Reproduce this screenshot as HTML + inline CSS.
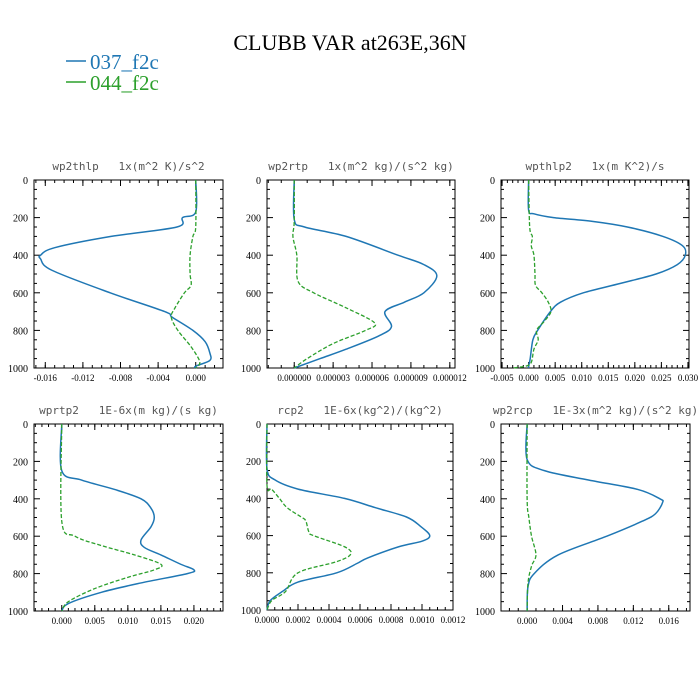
<!DOCTYPE html>
<html><head><meta charset="utf-8"><style>
body{margin:0;background:#fff;width:700px;height:700px;overflow:hidden}
svg{display:block}
</style></head><body>
<svg id="c" width="700" height="700">
<text x="350" y="50" text-anchor="middle" font-family="Liberation Serif, serif" font-size="22">CLUBB VAR at263E,36N</text>
<g>
<line x1="66" y1="61" x2="86" y2="61" stroke="#1f77b4" stroke-width="1.5"/>
<text x="90" y="69" font-family="Liberation Serif, serif" font-size="21" fill="#1f77b4">037_f2c</text>
<line x1="66" y1="82" x2="86" y2="82" stroke="#2ca02c" stroke-width="1.5"/>
<text x="90" y="90" font-family="Liberation Serif, serif" font-size="21" fill="#2ca02c">044_f2c</text>
</g>
</svg>
<script>
const levels1 = [0,170,200,250,300,360,400,420,480,600,700,730,800,860,920,960,990,1000];
const blue1 = [0,0,-0.0014,-0.002,-0.009,-0.015,-0.0165,-0.0165,-0.0153,-0.0091,-0.0033,-0.0025,-0.0003,0.001,0.0015,0.0015,0,0];
const levelsG1 = [0,250,300,400,500,560,600,680,730,800,880,950,980,1000];
const green1 = [0,0,-0.0003,-0.0006,-0.0006,-0.0005,-0.0012,-0.0022,-0.0026,-0.0019,-0.0006,0.0003,0.0004,0];
const levels2 = [0,210,250,300,400,450,510,600,650,700,780,830,900,950,1000];
const blue2 = [0,0,0.8e-6,4e-6,8e-6,10e-6,11e-6,10e-6,8.5e-6,7e-6,7.5e-6,6.5e-6,4e-6,2e-6,0];
const levelsG2 = [0,220,300,400,540,600,680,760,800,870,950,1000];
const green2 = [0,0,-0.1e-6,0.2e-6,0.3e-6,1.5e-6,4e-6,6.2e-6,5.5e-6,3e-6,1e-6,0];
const levels3 = [0,160,180,200,220,250,300,350,400,450,500,550,600,650,700,800,850,950,990,1000];
const blue3 = [0,0,0.001,0.0047,0.012,0.0186,0.0253,0.029,0.0295,0.028,0.024,0.0173,0.0103,0.006,0.0041,0.0017,0.0008,0.0003,0,0];
const levelsG3 = [0,250,300,350,400,500,560,600,650,700,750,800,850,900,970,990,1000];
const green3 = [0,0.0002,0.0007,0.0005,0.001,0.0012,0.0013,0.0025,0.0037,0.0042,0.003,0.0015,0.0018,0.001,0.0005,-0.0005,-0.003];
const levels4 = [0,250,300,350,400,450,500,550,620,660,700,750,780,800,850,900,960,1000];
const blue4 = [0,0,0.003,0.008,0.012,0.0135,0.014,0.0135,0.012,0.0125,0.015,0.018,0.020,0.019,0.012,0.006,0.001,0];
const levelsG4 = [0,520,600,650,700,750,780,820,880,950,1000];
const green4 = [0,0,0.002,0.006,0.011,0.015,0.014,0.010,0.005,0.001,0];
const levels5 = [0,240,300,350,400,450,500,550,600,630,660,720,750,800,850,900,950,1000];
const blue5 = [0,0,0.00005,0.0002,0.0005,0.0007,0.0009,0.00099,0.00105,0.001,0.00085,0.00065,0.00058,0.00045,0.0002,0.0001,0.00002,0];
const levelsG5 = [0,330,350,400,450,500,520,580,600,660,700,740,800,900,950,1000];
const green5 = [0,0,0.00003,0.00008,0.00013,0.00022,0.00025,0.00027,0.0003,0.0005,0.00054,0.00045,0.0002,0.00012,0.00003,0];
const levels6 = [0,190,250,300,350,400,420,480,520,600,700,800,870,1000];
const blue6 = [0,0,0.002,0.007,0.0125,0.015,0.0153,0.0145,0.013,0.009,0.0035,0.0008,0.0001,0];
const levelsG6 = [0,400,500,600,700,760,850,1000];
const green6 = [0,0,0.0002,0.0005,0.001,0.0005,0.0001,0];
const yTicks = [0,200,400,600,800,1000];

const panels = [
 {name:'wp2thlp',title:'wp2thlp   1x(m^2 K)/s^2',x0:34,x1:223,y0:180,y1:368,xmin:-0.0172,xmax:0.0029,ticks:[-0.016,-0.012,-0.008,-0.004,0],minor:0.001,fmt:v=>v.toFixed(3),L:levels1,B:blue1,LG:levelsG1,G:green1},
 {name:'wp2rtp',title:'wp2rtp   1x(m^2 kg)/(s^2 kg)',x0:267,x1:455,y0:180,y1:368,xmin:-2.1e-6,xmax:12.4e-6,ticks:[0,3e-6,6e-6,9e-6,12e-6],minor:1e-6,fmt:v=>v.toFixed(6),L:levels2,B:blue2,LG:levelsG2,G:green2},
 {name:'wpthlp2',title:'wpthlp2   1x(m K^2)/s',x0:501,x1:689,y0:180,y1:368,xmin:-0.0052,xmax:0.0302,ticks:[-0.005,0,0.005,0.01,0.015,0.02,0.025,0.03],minor:0.001,fmt:v=>v.toFixed(3),L:levels3,B:blue3,LG:levelsG3,G:green3},
 {name:'wprtp2',title:'wprtp2   1E-6x(m kg)/(s kg)',x0:34,x1:223,y0:424,y1:611,xmin:-0.0042,xmax:0.0244,ticks:[0,0.005,0.01,0.015,0.02],minor:0.001,fmt:v=>v.toFixed(3),L:levels4,B:blue4,LG:levelsG4,G:green4},
 {name:'rcp2',title:'rcp2   1E-6x(kg^2)/(kg^2)',x0:267,x1:453,y0:424,y1:610,xmin:0,xmax:0.0012,ticks:[0,0.0002,0.0004,0.0006,0.0008,0.001,0.0012],minor:0.00005,fmt:v=>v.toFixed(4),L:levels5,B:blue5,LG:levelsG5,G:green5},
 {name:'wp2rcp',title:'wp2rcp   1E-3x(m^2 kg)/(s^2 kg)',x0:501,x1:690,y0:424,y1:611,xmin:-0.00295,xmax:0.0184,ticks:[0,0.004,0.008,0.012,0.016],minor:0.001,fmt:v=>v.toFixed(3),L:levels6,B:blue6,LG:levelsG6,G:green6}
];
const svg=document.getElementById('c');
const NS='http://www.w3.org/2000/svg';
function mk(t,a,p){const e=document.createElementNS(NS,t);for(const k in a)e.setAttribute(k,a[k]);(p||svg).appendChild(e);return e;}
function smooth(pts){
 let d='M'+pts[0][0]+','+pts[0][1];
 for(let i=0;i<pts.length-1;i++){
  const p0=pts[Math.max(0,i-1)],p1=pts[i],p2=pts[i+1],p3=pts[Math.min(pts.length-1,i+2)];
  const c1x=p1[0]+(p2[0]-p0[0])/6,c1y=p1[1]+(p2[1]-p0[1])/6;
  const c2x=p2[0]-(p3[0]-p1[0])/6,c2y=p2[1]-(p3[1]-p1[1])/6;
  d+=' C'+c1x+','+c1y+' '+c2x+','+c2y+' '+p2[0]+','+p2[1];
 }
 return d;
}
panels.forEach(p=>{
 const g=mk('g',{});
 
 
 const sx=v=>p.x0+(v-p.xmin)/(p.xmax-p.xmin)*(p.x1-p.x0);
 const sy=v=>p.y0+v/1000*(p.y1-p.y0);
 const t=mk('text',{x:(p.x0+p.x1)/2,y:p.y0-10,'text-anchor':'middle','font-family':'DejaVu Sans Mono, monospace','font-size':11,fill:'#555',style:'white-space:pre'},g);
 t.textContent=p.title;
 
 
 const r=mk('rect',{x:p.x0,y:p.y0,width:p.x1-p.x0,height:p.y1-p.y0,fill:'none',stroke:'#000','stroke-width':1},g);
 
 
 for(let v=0;v<=1000;v+=50){const y=sy(v);const L=v%200===0?6:3;
  mk('line',{x1:p.x0,y1:y,x2:p.x0+L,y2:y,stroke:'#000'},g);mk('line',{x1:p.x1,y1:y,x2:p.x1-L,y2:y,stroke:'#000'},g);}
 yTicks.forEach(v=>{const tt=mk('text',{x:p.x0-6,y:sy(v)+4,'text-anchor':'end','font-family':'Liberation Serif, serif','font-size':10},g);tt.textContent=v;
  
  });
 const n0=Math.ceil(p.xmin/p.minor-1e-6),n1=Math.floor(p.xmax/p.minor+1e-6);
 for(let i=n0;i<=n1;i++){const x=sx(i*p.minor);mk('line',{x1:x,y1:p.y1,x2:x,y2:p.y1-3,stroke:'#000'},g);mk('line',{x1:x,y1:p.y0,x2:x,y2:p.y0+3,stroke:'#000'},g);}
 p.ticks.forEach(v=>{const x=sx(v);mk('line',{x1:x,y1:p.y1,x2:x,y2:p.y1-6,stroke:'#000'},g);mk('line',{x1:x,y1:p.y0,x2:x,y2:p.y0+6,stroke:'#000'},g);
  const tt=mk('text',{x:x,y:p.y1+13,'text-anchor':'middle','font-family':'Liberation Serif, serif','font-size':9},g);tt.textContent=p.fmt(v);
  
  });
 const pb=mk('path',{d:smooth(p.L.map((l,i)=>[sx(p.B[i]),sy(l)])),fill:'none',stroke:'#1f77b4','stroke-width':1.5},g);
 
 
 const pg=mk('path',{d:smooth(p.LG.map((l,i)=>[sx(p.G[i]),sy(l)])),fill:'none',stroke:'#2ca02c','stroke-width':1.3,'stroke-dasharray':'4,2'},g);
 
 
});
</script>
</body></html>
